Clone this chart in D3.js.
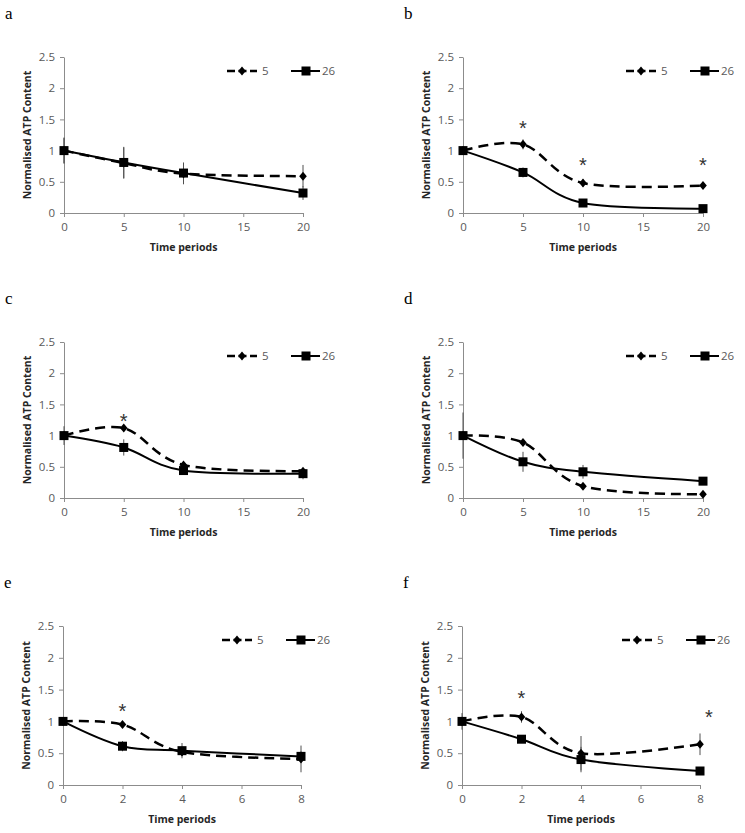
<!DOCTYPE html>
<html>
<head>
<meta charset="utf-8">
<script src="https://cdn.jsdelivr.net/npm/d3@7"></script>
<style>
  body { margin: 0; background: #fff; }
  svg { display: block; }
</style>
</head>
<body>
<svg id="fig" width="745" height="833"></svg>
<script>
// time points
var timeLong = [0, 5, 10, 20];
var timeShort = [0, 2, 4, 8];
var xTicksLong = [0, 5, 10, 15, 20];
var xTicksShort = [0, 2, 4, 6, 8];
var yTicks = [0, 0.5, 1, 1.5, 2, 2.5];
var seriesNames = ["5", "26"];

// values (series "5" dashed/diamond, "26" solid/square)
var a5 = [1.0, 0.80, 0.63, 0.59],  a5err = [0.20, 0.25, 0.17, 0.18];
var a26 = [1.0, 0.81, 0.64, 0.32], a26err = [0.21, 0.25, 0.17, 0.11];
var b5 = [1.0, 1.10, 0.48, 0.44],  b5err = [0.03, 0.08, 0.06, 0.03];
var b26 = [1.0, 0.65, 0.16, 0.07], b26err = [0.04, 0.08, 0.04, 0.02];
var c5 = [1.0, 1.12, 0.53, 0.43],  c5err = [0.05, 0.05, 0.05, 0.05];
var c26 = [1.0, 0.81, 0.44, 0.39], c26err = [0.15, 0.13, 0.05, 0.09];
var d5 = [1.0, 0.89, 0.19, 0.06],  d5err = [0.05, 0.05, 0.04, 0.03];
var d26 = [1.0, 0.58, 0.42, 0.27], d26err = [0.37, 0.16, 0.11, 0.05];
var e5 = [1.0, 0.95, 0.52, 0.41],  e5err = [0.05, 0.04, 0.06, 0.21];
var e26 = [1.0, 0.61, 0.54, 0.45], e26err = [0.05, 0.08, 0.12, 0.08];
var f5 = [1.0, 1.07, 0.50, 0.64],  f5err = [0.05, 0.09, 0.27, 0.17];
var f26 = [1.0, 0.72, 0.40, 0.22], f26err = [0.13, 0.04, 0.20, 0.03];

// significance asterisks [time, value]
var bStars = [[5, 1.45], [10, 0.85], [20, 0.85]];
var cStars = [[5, 1.32]];
var eStars = [[2, 1.25]];
var fStars = [[2, 1.45], [8.3, 1.14]];

var panels = [
  {label: "a", left: 64, right: 303, top: 57, bottom: 213, t: timeLong, ticks: xTicksLong, s5: a5, e5: a5err, s26: a26, e26: a26err, stars: [], legX: 178},
  {label: "b", left: 463, right: 703, top: 57, bottom: 213, t: timeLong, ticks: xTicksLong, s5: b5, e5: b5err, s26: b26, e26: b26err, stars: bStars, legX: 178},
  {label: "c", left: 64, right: 303, top: 342, bottom: 498, t: timeLong, ticks: xTicksLong, s5: c5, e5: c5err, s26: c26, e26: c26err, stars: cStars, legX: 178},
  {label: "d", left: 463, right: 703, top: 342, bottom: 498, t: timeLong, ticks: xTicksLong, s5: d5, e5: d5err, s26: d26, e26: d26err, stars: [], legX: 178},
  {label: "e", left: 63, right: 301, top: 626, bottom: 785, t: timeShort, ticks: xTicksShort, s5: e5, e5: e5err, s26: e26, e26: e26err, stars: eStars, legX: 174},
  {label: "f", left: 462, right: 700, top: 626, bottom: 785, t: timeShort, ticks: xTicksShort, s5: f5, e5: f5err, s26: f26, e26: f26err, stars: fStars, legX: 175}
];

var svg = d3.select("#fig");
var axisColor = "#8c8c8c", labelColor = "#595959";
var tickFont = "'Open Sans', sans-serif";
var tickSize = "11.5px";

function diamond(g, x, y) {
  g.append("path")
    .attr("d", "M" + x + "," + (y - 4.5) + "L" + (x + 3.8) + "," + y + "L" + x + "," + (y + 4.5) + "L" + (x - 3.8) + "," + y + "Z")
    .attr("fill", "#000");
}
function square(g, x, y) {
  g.append("rect")
    .attr("x", x - 4.5).attr("y", y - 4.5)
    .attr("width", 9).attr("height", 9)
    .attr("fill", "#000");
}

panels.forEach(function(p) {
  var g = svg.append("g");

  var x = d3.scaleLinear().domain([0, p.ticks[p.ticks.length - 1]]).range([p.left, p.right]);
  var y = d3.scaleLinear().domain([0, 2.5]).range([p.bottom, p.top]);

  // panel letter
  g.append("text")
    .text(p.label)
    .attr("x", p.left - 59)
    .attr("y", p.top - 38)
    .style("font-family", "'Liberation Serif', 'Times New Roman', serif")
    .style("font-size", "17px");

  // axes
  var xAxis = g.append("g")
    .attr("transform", "translate(0," + p.bottom + ")")
    .call(d3.axisBottom(x).tickValues(p.ticks).tickSize(4).tickPadding(6).tickSizeOuter(0));
  var yAxis = g.append("g")
    .attr("transform", "translate(" + p.left + ",0)")
    .call(d3.axisLeft(y).tickValues(yTicks).tickSize(4).tickPadding(5).tickSizeOuter(0).tickFormat(d3.format("")));
  [xAxis, yAxis].forEach(function(ax) {
    ax.select(".domain").attr("stroke", axisColor);
    ax.selectAll(".tick line").attr("stroke", axisColor);
    ax.selectAll(".tick text")
      .attr("fill", labelColor)
      .style("font-family", tickFont)
      .style("font-size", tickSize);
  });

  // axis titles
  g.append("text")
    .text("Time periods")
    .attr("x", (p.left + p.right) / 2)
    .attr("y", p.bottom + 38)
    .attr("text-anchor", "middle")
    .style("font-family", tickFont)
    .style("font-weight", "bold")
    .style("font-size", "10.5px")
    .attr("fill", "#262626");
  g.append("text")
    .text("Normalised ATP Content")
    .attr("text-anchor", "middle")
    .attr("transform", "translate(" + (p.left - 33) + "," + ((p.top + p.bottom) / 2) + ") rotate(-90)")
    .style("font-family", tickFont)
    .style("font-weight", "bold")
    .style("font-size", "10.5px")
    .attr("fill", "#262626");

  var line = d3.line()
    .x(function(d) { return x(d[0]); })
    .y(function(d) { return y(d[1]); })
    .curve(d3.curveCatmullRom.alpha(0));

  var pts5 = p.t.map(function(t, i) { return [t, p.s5[i], p.e5[i]]; });
  var pts26 = p.t.map(function(t, i) { return [t, p.s26[i], p.e26[i]]; });

  // error bars
  pts5.concat(pts26).forEach(function(d) {
    g.append("line")
      .attr("x1", x(d[0])).attr("x2", x(d[0]))
      .attr("y1", y(d[1] - d[2])).attr("y2", y(d[1] + d[2]))
      .attr("stroke", "#505050")
      .attr("stroke-width", 1);
  });

  g.append("path")
    .datum(pts5)
    .attr("d", line)
    .attr("fill", "none")
    .attr("stroke", "#000")
    .attr("stroke-width", 2.5)
    .attr("stroke-dasharray", "10,6");
  g.append("path")
    .datum(pts26)
    .attr("d", line)
    .attr("fill", "none")
    .attr("stroke", "#000")
    .attr("stroke-width", 2);

  pts5.forEach(function(d) { diamond(g, x(d[0]), y(d[1])); });
  pts26.forEach(function(d) { square(g, x(d[0]), y(d[1])); });

  // asterisks
  p.stars.forEach(function(s) {
    g.append("text")
      .text("*")
      .attr("x", x(s[0]))
      .attr("y", y(s[1]) + 12)
      .attr("text-anchor", "middle")
      .style("font-family", "'Liberation Sans', Arial, sans-serif")
      .style("font-size", "20px")
      .attr("fill", "#333");
  });

  // legend
  var ly = p.top + 14;
  var lx = p.left + p.legX;
  var leg = g.append("g");
  leg.append("line")
    .attr("x1", lx - 15).attr("x2", lx + 15).attr("y1", ly).attr("y2", ly)
    .attr("stroke", "#000").attr("stroke-width", 2.5).attr("stroke-dasharray", "8,3.5");
  diamond(leg, lx, ly);
  leg.append("text")
    .text(seriesNames[0])
    .attr("x", lx + 20).attr("y", ly + 4)
    .attr("fill", labelColor)
    .style("font-family", tickFont).style("font-size", tickSize);
  var sx = lx + 64;
  leg.append("line")
    .attr("x1", sx - 15).attr("x2", sx + 14).attr("y1", ly).attr("y2", ly)
    .attr("stroke", "#000").attr("stroke-width", 2);
  square(leg, sx, ly);
  leg.append("text")
    .text(seriesNames[1])
    .attr("x", sx + 16).attr("y", ly + 4)
    .attr("fill", labelColor)
    .style("font-family", tickFont).style("font-size", tickSize);
});
</script>
</body>
</html>
